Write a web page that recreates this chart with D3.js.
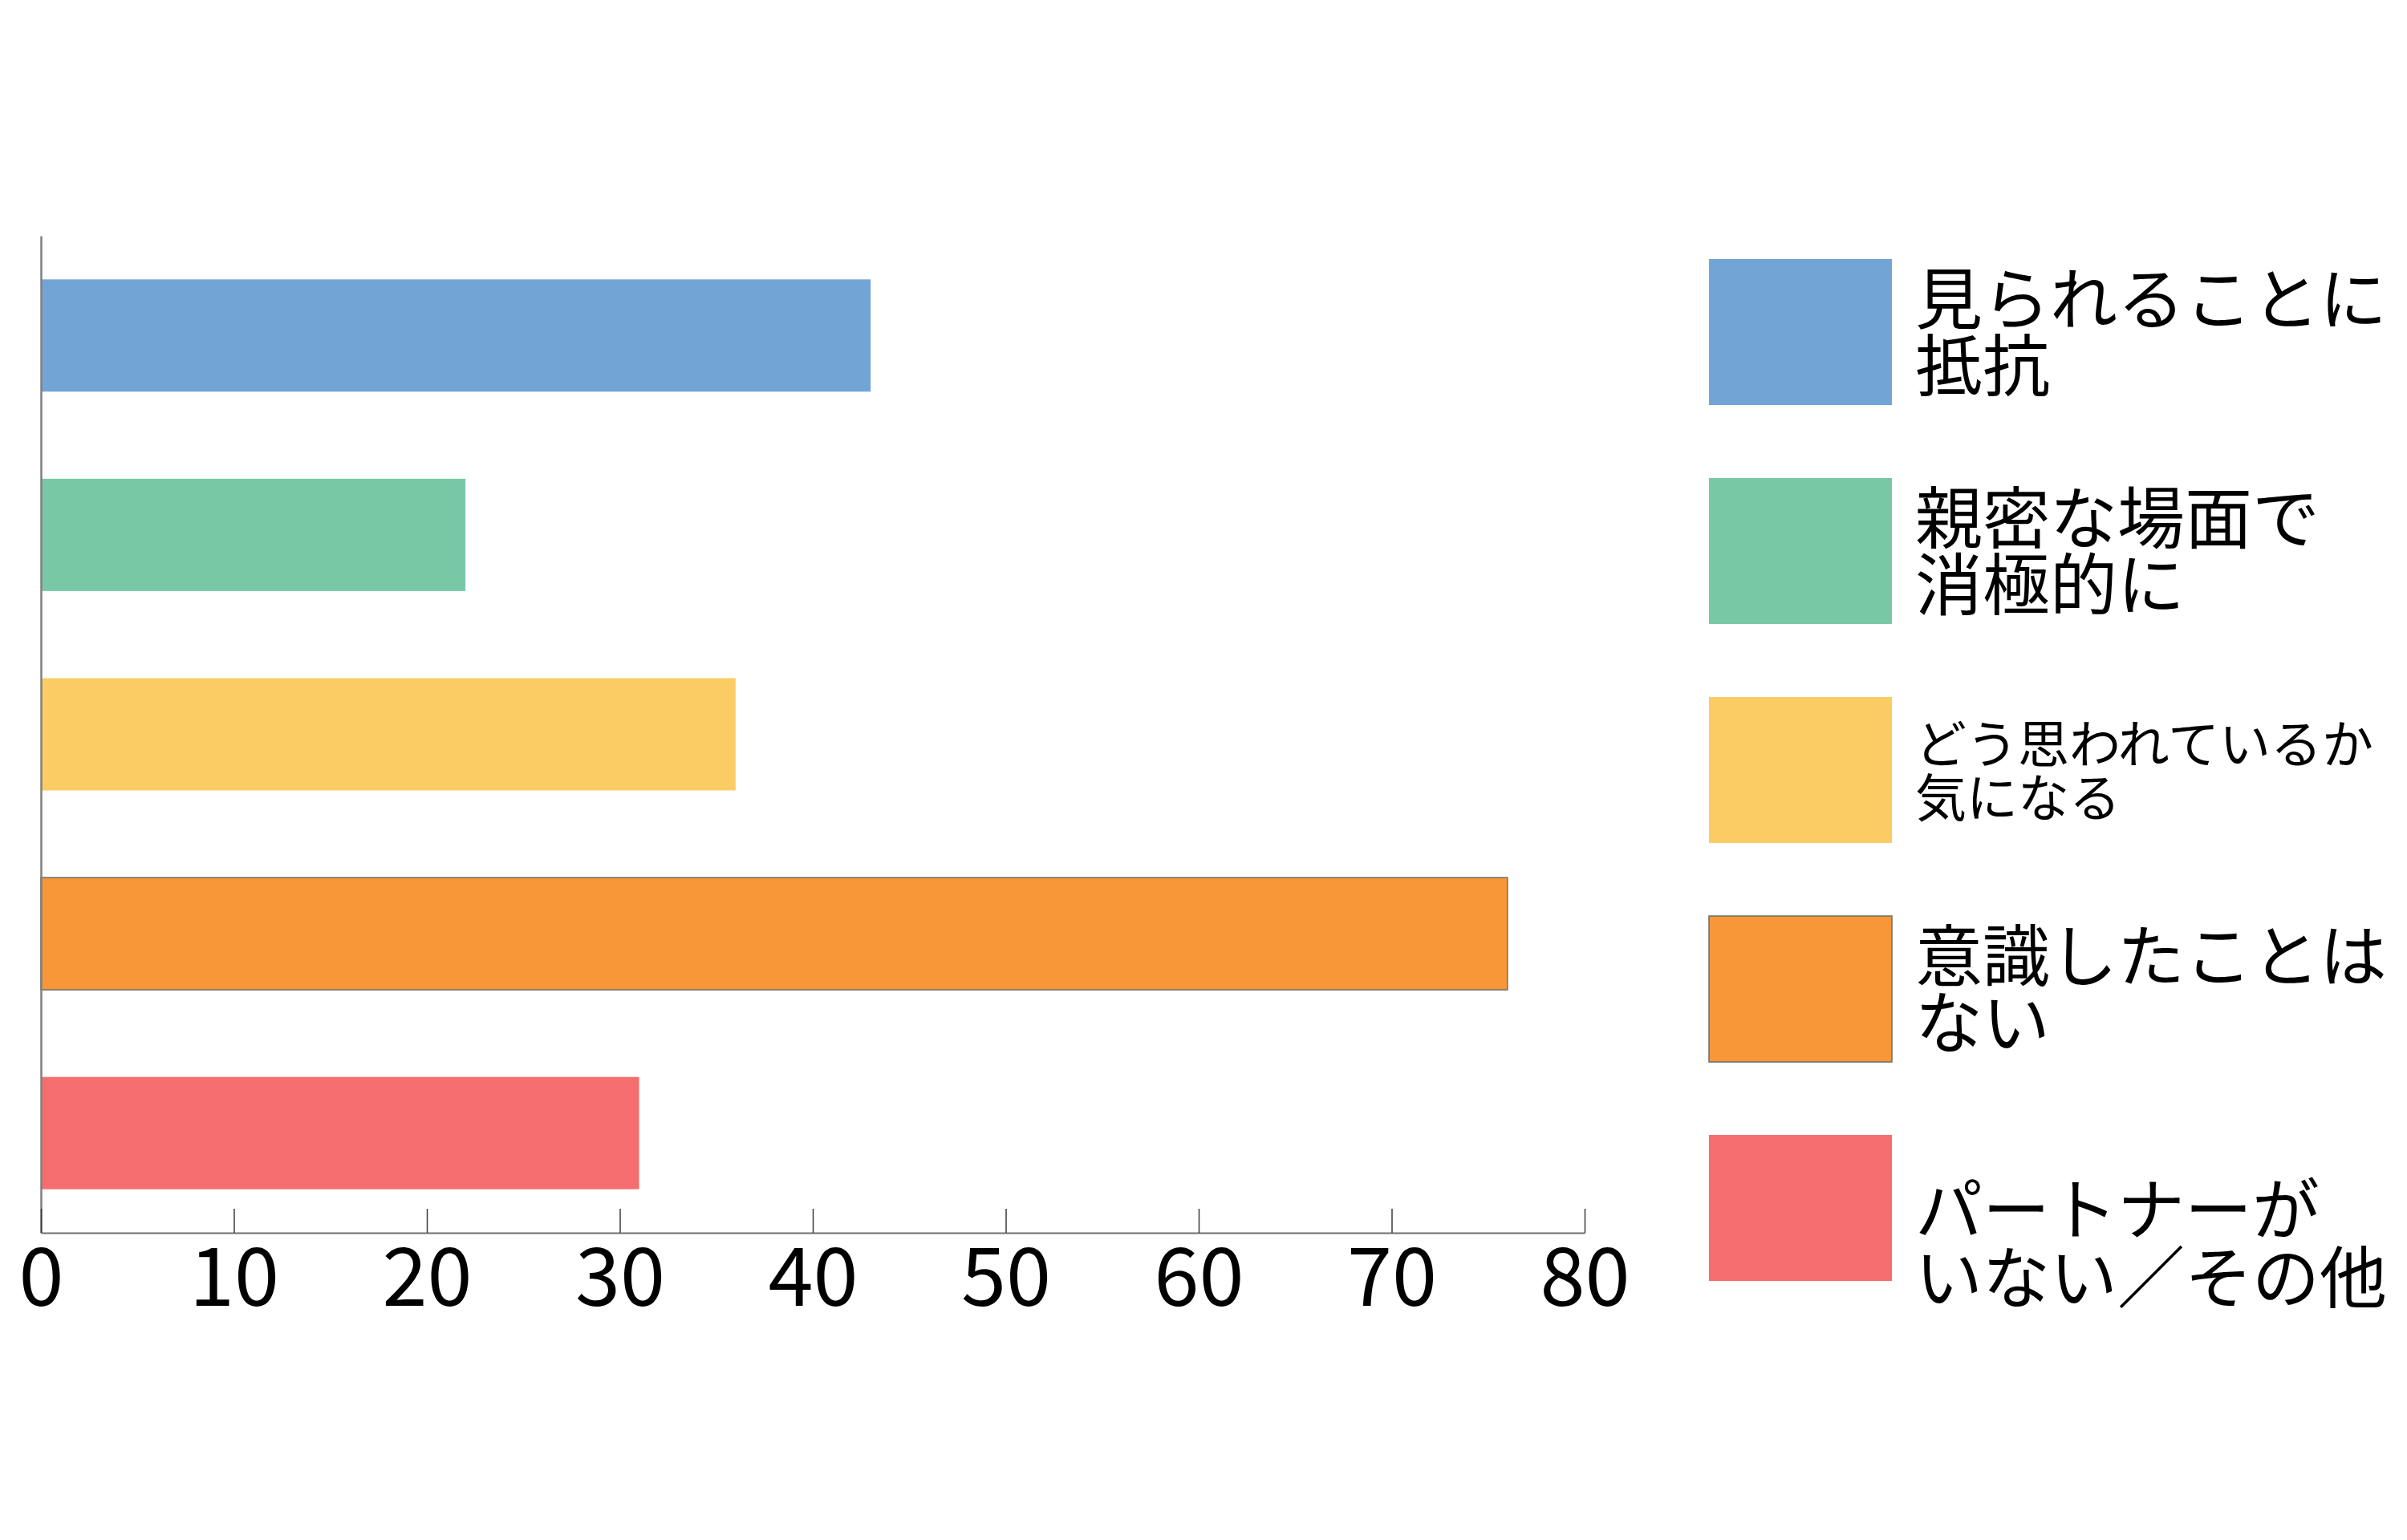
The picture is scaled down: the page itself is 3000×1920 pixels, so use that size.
<!DOCTYPE html>
<html>
<head>
<meta charset="utf-8">
<script src="https://cdn.jsdelivr.net/npm/d3@7"></script>
<style>
  html, body { margin: 0; padding: 0; background: #ffffff; }
  svg { display: block; }
</style>
</head>
<body>
<svg id="chart" width="3000" height="1920"></svg>
<script>
// ---- data ----
const categories = ["見られることに抵抗", "親密な場面で消極的に", "どう思われているか気になる", "意識したことはない", "パートナーがいない／その他"];
const values = [43, 22, 36, 76, 31];
const colors = ["#72a5d5", "#78c8a6", "#fbcc64", "#f79738", "#f66d6e"];
const legendLines = [
  ["見られることに", "抵抗"],
  ["親密な場面で", "消極的に"],
  ["どう思われているか", "気になる"],
  ["意識したことは", "ない"],
  ["パートナーが", "いない／その他"]
];
const xTicks = [0, 10, 20, 30, 40, 50, 60, 70, 80];
const xDomain = [0, 80];

// ---- layout ----
const W = 3000, H = 1920;
const plot = { left: 51, right: 1975, top: 294, bottom: 1537 };
const legend = { x: 2130, y0: 323, step: 273, sw: 228, sh: 182, textX: 2387 };
const legendStyle = [
  { fs: 84, lh: 83, shift: 0 },
  { fs: 84, lh: 83, shift: 0 },
  { fs: 64, lh: 67, shift: 0 },
  { fs: 84, lh: 83, shift: 0 },
  { fs: 84, lh: 85, shift: 44 }
];
const strokes = [null, null, null, "#6b6b6b", null];

const svg = d3.select("#chart");
svg.append("rect").attr("width", W).attr("height", H).attr("fill", "#ffffff");

const x = d3.scaleLinear().domain(xDomain).range([plot.left, plot.right]);
const y = d3.scaleBand().domain(categories).range([plot.top, plot.bottom])
  .paddingInner(0.437).paddingOuter(0.2185);

// bars
svg.append("g").selectAll("rect")
  .data(categories)
  .join("rect")
  .attr("x", x(0))
  .attr("y", d => y(d))
  .attr("width", (d, i) => x(values[i]) - x(0))
  .attr("height", y.bandwidth())
  .attr("fill", (d, i) => colors[i])
  .attr("stroke", (d, i) => strokes[i] || "none")
  .attr("stroke-width", 1.5);

// y axis (line only)
const yAxis = svg.append("g")
  .attr("transform", `translate(${plot.left},0)`)
  .call(d3.axisLeft(y).tickSize(0).tickSizeOuter(0).tickFormat(""));
yAxis.select(".domain").attr("stroke", "#808080").attr("stroke-width", 2.5);
yAxis.selectAll(".tick").remove();

// x axis
const xAxis = svg.append("g")
  .attr("transform", `translate(0,${plot.bottom})`)
  .call(d3.axisBottom(x).tickValues(xTicks).tickSize(-30).tickSizeOuter(0).tickFormat(d3.format("d")));
xAxis.select(".domain").attr("stroke", "#6e6e6e").attr("stroke-width", 2);
xAxis.selectAll(".tick line").attr("stroke", "#3a3a3a").attr("stroke-width", 1.5);
xAxis.selectAll(".tick text")
  .attr("y", 91)
  .attr("dy", null)
  .attr("fill", "#000")
  .style("font-family", "'Noto Sans CJK JP', 'Noto Sans', sans-serif")
  .style("font-size", "101px");

// legend
const lg = svg.append("g");
categories.forEach((c, i) => {
  const top = legend.y0 + i * legend.step;
  lg.append("rect")
    .attr("x", legend.x).attr("y", top)
    .attr("width", legend.sw).attr("height", legend.sh)
    .attr("fill", colors[i])
    .attr("stroke", strokes[i] || "none")
    .attr("stroke-width", 1.5);
  const st = legendStyle[i];
  const cy = top + legend.sh / 2 + st.shift;
  const b1 = cy - st.lh / 2 + 0.38 * st.fs;
  const t = lg.append("text")
    .attr("x", legend.textX)
    .attr("fill", "#000")
    .style("font-family", "'Noto Sans CJK JP', sans-serif")
    .style("font-size", st.fs + "px");
  legendLines[i].forEach((ln, k) => {
    t.append("tspan").attr("x", legend.textX).attr("y", b1 + k * st.lh).text(ln);
  });
});
</script>
</body>
</html>
